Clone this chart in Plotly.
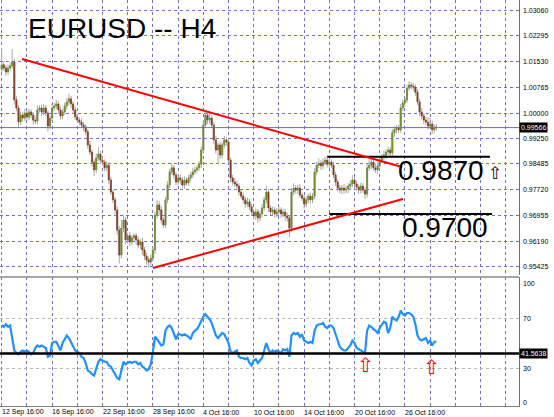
import plotly.graph_objects as go

# ---------------- data ----------------
bar_index = list(range(208))
first_open = 1.0130
close = [
    1.0143, 1.0134, 1.0122, 1.0134, 1.0140, 1.0152, 1.0039, 1.0015, 0.9973, 0.9994,
    0.9985, 1.0000, 0.9988, 1.0003, 0.9994, 0.9979, 0.9976, 1.0009, 1.0015, 1.0003,
    1.0015, 1.0000, 0.9961, 0.9985, 1.0015, 1.0021, 1.0027, 1.0009, 0.9991, 1.0003,
    1.0021, 1.0033, 1.0042, 1.0027, 1.0009, 0.9988, 0.9979, 0.9973, 0.9964, 0.9958,
    0.9944, 0.9905, 0.9884, 0.9854, 0.9831, 0.9866, 0.9878, 0.9860, 0.9854, 0.9837,
    0.9845, 0.9801, 0.9765, 0.9742, 0.9712, 0.9652, 0.9578, 0.9658, 0.9682, 0.9623,
    0.9635, 0.9617, 0.9629, 0.9635, 0.9623, 0.9608, 0.9617, 0.9593, 0.9575, 0.9563,
    0.9557, 0.9569, 0.9593, 0.9697, 0.9727, 0.9712, 0.9682, 0.9667, 0.9742, 0.9786,
    0.9825, 0.9837, 0.9816, 0.9795, 0.9807, 0.9801, 0.9786, 0.9801, 0.9792, 0.9807,
    0.9816, 0.9825, 0.9831, 0.9837, 0.9848, 0.9890, 0.9964, 0.9994, 0.9979, 0.9985,
    0.9964, 0.9920, 0.9890, 0.9905, 0.9875, 0.9905, 0.9920, 0.9914, 0.9860, 0.9807,
    0.9795, 0.9789, 0.9783, 0.9765, 0.9753, 0.9742, 0.9730, 0.9736, 0.9721, 0.9706,
    0.9694, 0.9706, 0.9688, 0.9700, 0.9718, 0.9742, 0.9765, 0.9718, 0.9706, 0.9712,
    0.9700, 0.9706, 0.9712, 0.9700, 0.9706, 0.9694, 0.9688, 0.9658, 0.9765, 0.9777,
    0.9771, 0.9777, 0.9756, 0.9747, 0.9730, 0.9742, 0.9753, 0.9742, 0.9753, 0.9825,
    0.9845, 0.9851, 0.9843, 0.9854, 0.9860, 0.9848, 0.9854, 0.9845, 0.9816, 0.9795,
    0.9777, 0.9771, 0.9777, 0.9771, 0.9774, 0.9783, 0.9789, 0.9801, 0.9789, 0.9780,
    0.9771, 0.9783, 0.9771, 0.9759, 0.9837, 0.9845, 0.9854, 0.9837, 0.9831, 0.9843,
    0.9860, 0.9869, 0.9875, 0.9884, 0.9890, 0.9881, 0.9941, 0.9950, 0.9955, 0.9950,
    1.0015, 1.0030, 1.0039, 1.0074, 1.0083, 1.0080, 1.0077, 1.0062, 1.0033, 1.0003,
    0.9991, 0.9979, 0.9973, 0.9961, 0.9967, 0.9950, 0.9958, 0.99566,
]
upper_wick_pips = [
    50, 12, 8, 10, 9, 38, 10, 12, 8, 10,
    9, 12, 8, 10, 7, 9, 11, 14, 8, 9,
    12, 9, 8, 10, 14, 9, 12, 8, 10, 9,
    10, 12, 15, 9, 8, 10, 9, 8, 11, 9,
    10, 8, 12, 9, 8, 14, 20, 10, 9, 8,
    12, 9, 10, 8, 9, 10, 12, 25, 14, 10,
    9, 12, 10, 8, 9, 10, 8, 12, 9, 10,
    8, 10, 9, 10, 15, 12, 10, 8, 9, 12,
    10, 14, 9, 8, 12, 10, 9, 11, 8, 10,
    9, 12, 10, 8, 9, 10, 15, 12, 10, 14,
    9, 10, 12, 8, 9, 10, 12, 9, 10, 8,
    9, 12, 10, 8, 9, 10, 8, 12, 9, 10,
    8, 10, 9, 11, 12, 10, 20, 9, 8, 10,
    9, 12, 10, 8, 10, 9, 10, 8, 12, 14,
    9, 10, 12, 8, 9, 10, 8, 10, 9, 12,
    10, 14, 9, 12, 10, 9, 11, 8, 10, 9,
    8, 10, 9, 12, 10, 9, 11, 14, 10, 9,
    8, 10, 9, 10, 12, 14, 10, 9, 12, 10,
    9, 10, 12, 9, 10, 8, 12, 10, 9, 10,
    12, 10, 9, 10, 12, 9, 10, 8, 9, 10,
    12, 9, 10, 14, 18, 10, 9, 8,
]
lower_wick_pips = [
    10, 9, 12, 8, 10, 9, 14, 10, 15, 9,
    10, 8, 12, 9, 10, 14, 9, 10, 8, 12,
    9, 10, 16, 9, 10, 8, 9, 12, 10, 9,
    8, 10, 9, 12, 10, 9, 8, 10, 9, 12,
    10, 12, 9, 14, 18, 10, 9, 12, 10, 9,
    10, 12, 9, 10, 12, 14, 25, 10, 12, 14,
    10, 12, 9, 10, 14, 10, 12, 15, 12, 14,
    18, 10, 9, 12, 10, 14, 10, 9, 8, 10,
    9, 10, 12, 9, 10, 11, 9, 10, 8, 9,
    10, 9, 8, 10, 9, 12, 10, 9, 12, 10,
    9, 12, 10, 40, 12, 9, 10, 12, 10, 12,
    10, 9, 12, 10, 9, 10, 12, 10, 9, 12,
    10, 12, 14, 9, 10, 8, 10, 12, 9, 10,
    12, 9, 10, 12, 10, 14, 12, 27, 10, 9,
    10, 12, 9, 10, 14, 10, 9, 12, 10, 9,
    10, 9, 12, 10, 9, 10, 12, 9, 10, 12,
    10, 9, 12, 10, 9, 12, 10, 9, 12, 10,
    12, 10, 9, 14, 10, 9, 12, 10, 9, 12,
    10, 9, 10, 12, 9, 10, 9, 12, 10, 9,
    10, 9, 12, 10, 8, 9, 10, 12, 10, 12,
    10, 12, 9, 10, 9, 12, 10, 9,
]
rsi = [
    64, 63, 65, 63, 64, 52, 44, 42, 41, 43,
    44, 43, 44, 43, 41, 42, 46, 48, 47, 48,
    47, 46, 39, 40, 50, 51, 51, 47, 44, 50,
    53, 56, 54, 51, 48, 44, 43, 42, 39, 38,
    34, 28, 27, 25, 24, 30, 35, 37, 36, 35,
    35, 32, 31, 28, 25, 22, 21, 27, 35, 33,
    34, 35, 34, 35, 35, 33, 34, 31, 30, 28,
    29, 33, 43, 55, 53, 50, 48, 49, 60, 63,
    64, 62, 58, 53, 57, 57, 56, 57, 56, 55,
    53, 58, 60, 61, 64, 68, 71, 73, 71, 69,
    66, 60, 56, 54, 56, 58, 57, 54, 50, 43,
    42, 43, 44, 39, 38, 38, 37, 38, 34, 32,
    36, 37, 34, 36, 38, 44, 50, 45, 42, 44,
    43, 44, 43, 42, 45, 44, 45, 39, 56, 58,
    57, 58, 55, 57, 52, 51, 50, 51, 50, 60,
    64, 65, 65, 66, 63, 62, 64, 64, 62, 57,
    52, 47, 45, 44, 44, 46, 48, 52, 50, 46,
    45, 44, 43, 42, 60, 64, 63, 61, 60, 58,
    62, 65, 67, 66, 58, 62, 71, 69, 68, 71,
    76, 73, 72, 74, 74, 73, 71, 65, 56, 53,
    52, 53, 54, 50, 52, 48, 51, 51,
]

price_ticks = [0.95425, 0.96190, 0.96955, 0.97720, 0.98485, 0.99250,
               1.00000, 1.00765, 1.01530, 1.02295, 1.03060]
price_tick_labels = ["0.95425", "0.96190", "0.96955", "0.97720", "0.98485", "0.99250",
                     "1.00000", "1.00765", "1.01530", "1.02295", "1.03060"]
rsi_grid_levels = [30, 70]
rsi_label_texts = ["0", "30", "70", "100"]
date_tick_bars = [0, 24, 48, 72, 96, 120, 144, 168, 192]
date_tick_labels = ["12 Sep 16:00", "16 Sep 16:00", "22 Sep 16:00", "28 Sep 16:00",
                    "4 Oct 16:00", "10 Oct 16:00", "14 Oct 16:00", "20 Oct 16:00",
                    "26 Oct 16:00"]
grid_bars = list(range(0, 241, 12))
last_price = 0.99566
rsi_level = 41.5638
level_high = 0.9870
level_low = 0.9700
level_high_bars = [155, 232.5]
level_low_bars = [156, 233.5]
upper_trend_bars = [9.7, 190.6]
upper_trend_prices = [1.01604, 0.98396]
lower_trend_bars = [72.0, 191.1]
lower_trend_prices = [0.95395, 0.97445]

# ---------------- derived OHLC ----------------
opens = [first_open] + close[:-1]
highs = [max(o, c) + u * 0.0001 for o, c, u in zip(opens, close, upper_wick_pips)]
lows = [min(o, c) - w * 0.0001 for o, c, w in zip(opens, close, lower_wick_pips)]
body_top = [max(o, c) for o, c in zip(opens, close)]
body_bot = [min(o, c) for o, c in zip(opens, close)]

# ---------------- geometry helpers (pixel -> paper) ----------------
W, H = 554, 417
ML, MR, MT, MB = 0, 35, 0, 11
PW, PH = W - ML - MR, H - MT - MB


def px(x):
    return (x - ML) / PW


def py(y):
    return 1 - (y - MT) / PH


GRID = "#7070c8"
FONT = "Liberation Sans, Arial, sans-serif"
BULL = "#6b8e23"
BEAR = "#8b3a1a"

fig = go.Figure()
# wicks (gray)
fig.add_trace(go.Candlestick(
    x=bar_index, open=opens, high=highs, low=lows, close=close,
    xaxis="x", yaxis="y",
    increasing=dict(line=dict(color="#a8a8a8", width=1), fillcolor="#a8a8a8"),
    decreasing=dict(line=dict(color="#a8a8a8", width=1), fillcolor="#a8a8a8"),
    whiskerwidth=0, showlegend=False, hoverinfo="skip",
))
# coloured bodies
fig.add_trace(go.Candlestick(
    x=bar_index, open=opens, high=body_top, low=body_bot, close=close,
    xaxis="x", yaxis="y",
    increasing=dict(line=dict(color=BULL, width=0.6), fillcolor=BULL),
    decreasing=dict(line=dict(color=BEAR, width=0.6), fillcolor=BEAR),
    whiskerwidth=0, showlegend=False, hoverinfo="skip",
))
fig.add_trace(go.Scatter(
    x=bar_index, y=rsi, xaxis="x2", yaxis="y2", mode="lines",
    line=dict(color="#1e90ff", width=2.2), showlegend=False, hoverinfo="skip",
))

axis_common = dict(
    range=[-0.81, 246.33], tickvals=grid_bars, showticklabels=False,
    showgrid=True, gridcolor=GRID, griddash="dot", gridwidth=1,
    zeroline=False, ticks="", fixedrange=True,
)

shapes = []
shapes.append(dict(type="line", xref="x domain", yref="y", x0=0, x1=1,
                   y0=last_price, y1=last_price, line=dict(color="#6e6eb8", width=1)))
shapes.append(dict(type="line", xref="x", yref="y", x0=level_high_bars[0], x1=level_high_bars[1],
                   y0=level_high, y1=level_high, line=dict(color="black", width=2)))
shapes.append(dict(type="line", xref="x", yref="y", x0=level_low_bars[0], x1=level_low_bars[1],
                   y0=level_low, y1=level_low, line=dict(color="black", width=2)))
shapes.append(dict(type="line", xref="x", yref="y", x0=upper_trend_bars[0], x1=upper_trend_bars[1],
                   y0=upper_trend_prices[0], y1=upper_trend_prices[1],
                   line=dict(color="#ff0000", width=2)))
shapes.append(dict(type="line", xref="x", yref="y", x0=lower_trend_bars[0], x1=lower_trend_bars[1],
                   y0=lower_trend_prices[0], y1=lower_trend_prices[1],
                   line=dict(color="#ff0000", width=2)))
shapes.append(dict(type="line", xref="x2 domain", yref="y2", x0=0, x1=1,
                   y0=rsi_level, y1=rsi_level, line=dict(color="black", width=2.5)))
shapes.append(dict(type="line", xref="x2 domain", yref="y2 domain", x0=0, x1=1,
                   y0=1, y1=1, line=dict(color="#8a8a8a", width=1.5)))

annotations = []


def label(text, x, y, xref="paper", yref="paper", size=7, color="black",
          xanchor="left", family=FONT, **kw):
    annotations.append(dict(text=text, xref=xref, yref=yref, x=x, y=y,
                            xanchor=xanchor, yanchor="middle", showarrow=False,
                            font=dict(family=family, size=size, color=color), **kw))


label("EURUSD -- H4", px(26), py(29), size=28)
label("0.9870", px(396), py(170), size=28)
label("0.9700", px(400), py(227), size=28)
label("⇧", px(495), py(173), xanchor="center", size=17, family="DejaVu Sans")
for ax_x, ax_y in [(365, 365), (431, 367)]:
    label("⇧", px(ax_x), py(ax_y), xanchor="center", size=20, color="#ff0000",
          family="DejaVu Sans")
# date labels (left aligned at grid lines)
for b, lab in zip(date_tick_bars, date_tick_labels):
    label(lab, b, py(412), xref="x2", xshift=-2)
# price axis labels
for v, t in zip(price_ticks, price_tick_labels):
    label(t, 1, v, yref="y", xshift=2)
# RSI axis labels
label(rsi_label_texts[3], 1, py(283), xshift=2)
label(rsi_label_texts[2], 1, 70, yref="y2", xshift=2)
label(rsi_label_texts[1], 1, 30, yref="y2", xshift=2)
label(rsi_label_texts[0], 1, py(402), xshift=2)
# value boxes
label("0.99566", 1, last_price, yref="y", xshift=0, color="white", bgcolor="black", borderpad=1)
label("41.5638", 1, rsi_level, yref="y2", xshift=0, color="white", bgcolor="black", borderpad=1)

price_top = 1.03357
price_bottom = 0.95187

fig.update_layout(
    width=W, height=H,
    margin=dict(l=ML, r=MR, t=MT, b=MB),
    paper_bgcolor="white", plot_bgcolor="white",
    showlegend=False,
    xaxis=dict(domain=[0, 1], anchor="y", rangeslider=dict(visible=False), **axis_common),
    xaxis2=dict(domain=[0, 1], anchor="y2", matches="x", showline=True,
                linecolor="#808080", linewidth=1, **axis_common),
    yaxis=dict(domain=[py(275), 1], range=[price_bottom, price_top], side="right",
               tickvals=price_ticks, showticklabels=False,
               showgrid=True, gridcolor=GRID, griddash="dot", gridwidth=1,
               zeroline=False, ticks="", showline=True, linecolor="#707070", linewidth=1,
               fixedrange=True),
    yaxis2=dict(domain=[0, py(277)], range=[-0.4, 102.8], side="right",
                tickvals=rsi_grid_levels, showticklabels=False,
                showgrid=True, gridcolor="#b8b8b8", griddash="dot", gridwidth=1,
                zeroline=False, ticks="", showline=True, linecolor="#707070", linewidth=1,
                fixedrange=True),
    shapes=shapes,
    annotations=annotations,
    boxgap=0.3,
)

fig.write_html("out.html", config={"displayModeBar": False},
               post_script="document.body.style.margin='0';"
               "document.body.style.overflow='hidden';")
